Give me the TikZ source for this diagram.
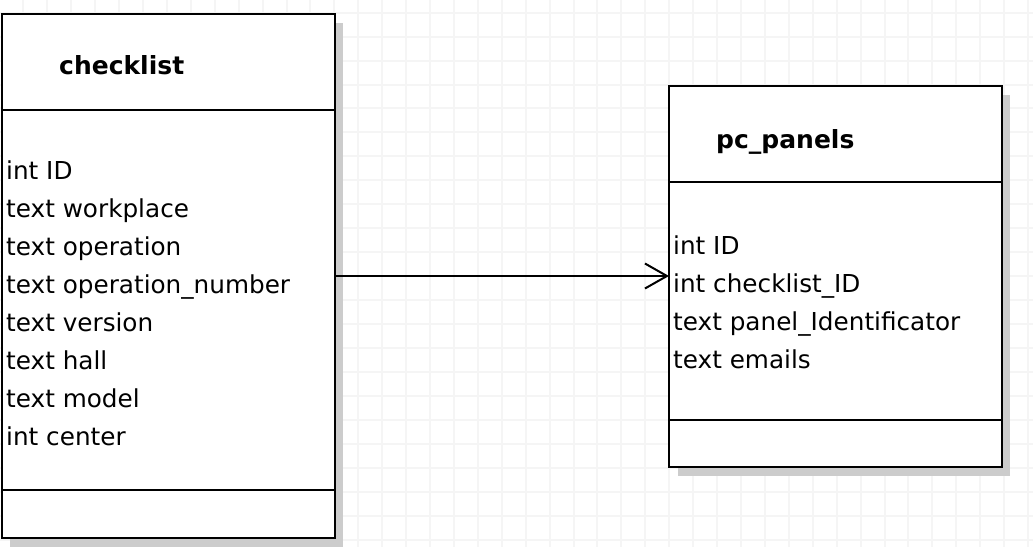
\documentclass[tikz,border=0pt]{standalone}
\usepackage{fontspec}
\setmainfont{DejaVu Sans}
\usetikzlibrary{arrows.meta}
\begin{document}
\begin{tikzpicture}[x=1pt,y=-1pt,
  tbl/.style={draw=black, line width=2pt, fill=white, inner sep=0pt, outer sep=0pt, anchor=north west},
  divider/.style={draw=black, line width=2pt},
  attr/.style={anchor=base west, inner sep=0pt, font=\fontsize{24.7}{30}\selectfont},
  ttl/.style={anchor=base west, inner sep=0pt, font=\fontsize{25}{30}\selectfont\bfseries},
  shadowbox/.style={fill=black!20},
  gridline/.style={draw=black!4, line width=1.6pt},
  link/.style={draw=black, line width=2pt, -{Straight Barb[length=22pt,width=25pt,line width=2pt]}}]
\useasboundingbox (0,0) rectangle (1033,547);
\fill[white] (0,0) rectangle (1033,547);
\begin{scope}
\clip (0,0) rectangle (1033,547);
\foreach \i in {0,...,43} \draw[gridline] ({round(-0.5+23.92*\i)},0) -- ({round(-0.5+23.92*\i)},547);
\foreach \j in {0,...,23} \draw[gridline] (0,{round(-11.25+23.95*\j)}) -- (1033,{round(-11.25+23.95*\j)});
% shadows
\fill[shadowbox] (10,23) rectangle (343,547);
\fill[shadowbox] (678,95) rectangle (1010,476);
\end{scope}
% checklist table
\node[tbl, minimum width=333pt, minimum height=524pt] (cl) at (2,14) {};
\draw[divider] (cl.west |- 0,110) -- (cl.east |- 0,110);
\draw[divider] (cl.west |- 0,490) -- (cl.east |- 0,490);
\node[ttl] (clt) at (59,74) {checklist};
\foreach \t [count=\k from 0] in {int ID, text workplace, text operation, text operation\_number, text version, text hall, text model, int center}
  \node[attr] (cla\k) at (6,{179+38*\k}) {\t};
% pc_panels table
\node[tbl, minimum width=333pt, minimum height=381pt] (pc) at (669,86) {};
\draw[divider] (pc.west |- 0,182) -- (pc.east |- 0,182);
\draw[divider] (pc.west |- 0,420) -- (pc.east |- 0,420);
\node[ttl] (pct) at (716,148.3) {pc\_panels};
\foreach \t [count=\k from 0] in {int ID, int checklist\_ID, text panel\_Identificator, text emails}
  \node[attr] (pca\k) at (673,{254.5+38*\k}) {\t};
% relation
\draw[link] (cl.east |- 0,276) -- (pc.west |- 0,276);
\end{tikzpicture}
\end{document}
